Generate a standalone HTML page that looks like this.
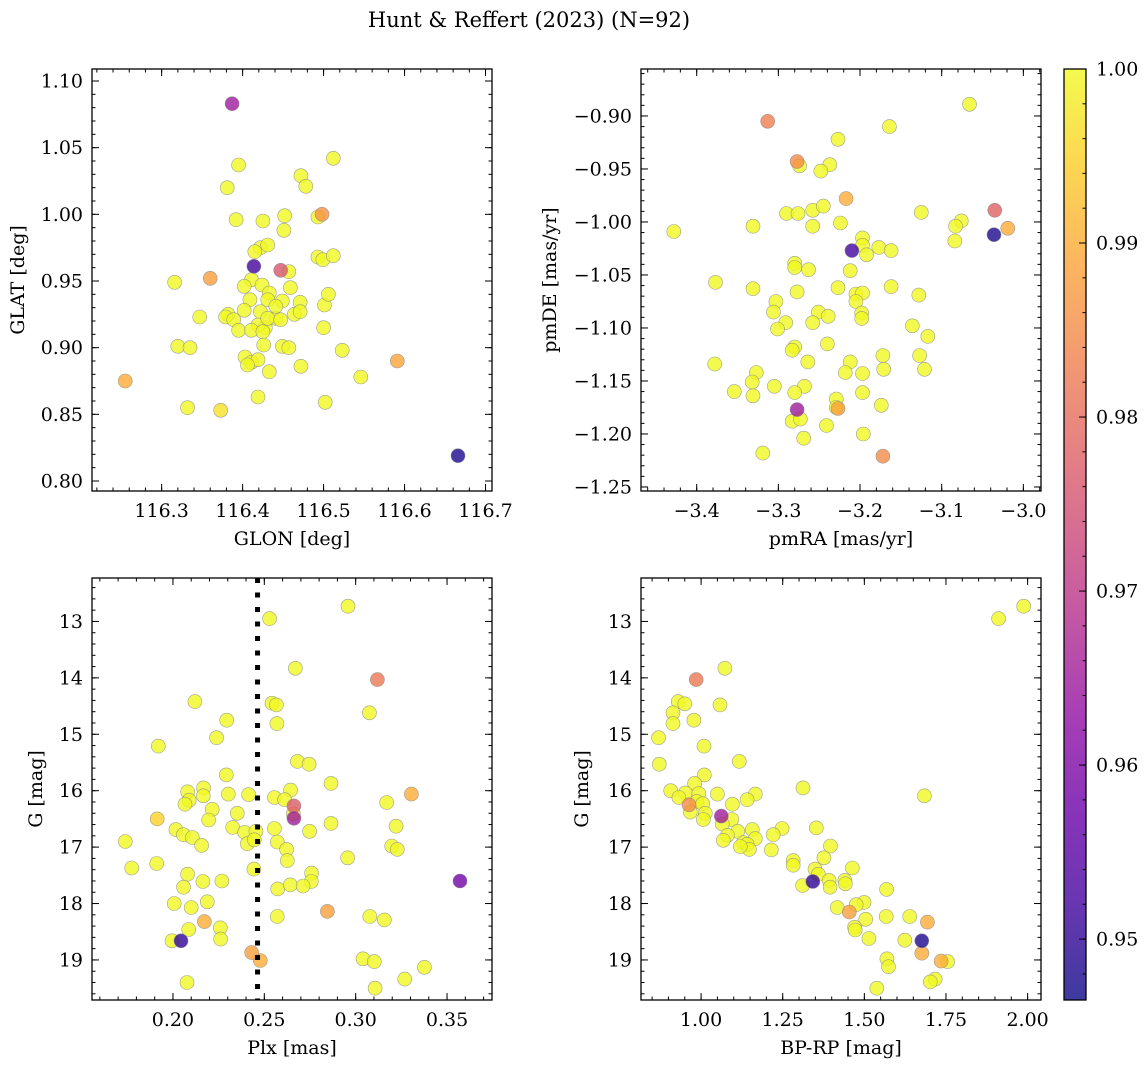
<!DOCTYPE html>
<html><head><meta charset="utf-8"><style>
html,body{margin:0;padding:0;background:#fff;}
svg{display:block;font-family:"DejaVu Serif","Liberation Serif",serif;}
</style></head><body>
<svg id="fig" width="1148" height="1068" viewBox="0 0 1148 1068" xmlns="http://www.w3.org/2000/svg">
<defs>
<linearGradient id="plasmaGrad" x1="0" y1="1" x2="0" y2="0">
<stop offset="0" stop-color="#0d0887"/><stop offset="0.1" stop-color="#41049d"/><stop offset="0.2" stop-color="#6a00a8"/><stop offset="0.3" stop-color="#8f0da4"/><stop offset="0.4" stop-color="#b12a90"/><stop offset="0.5" stop-color="#cc4778"/><stop offset="0.6" stop-color="#e16462"/><stop offset="0.7" stop-color="#f2844b"/><stop offset="0.8" stop-color="#fca636"/><stop offset="0.9" stop-color="#fcce25"/><stop offset="1" stop-color="#f0f921"/>
</linearGradient>
</defs>
<text x="529" y="27" font-size="21" text-anchor="middle">Hunt &amp; Reffert (2023) (N=92)</text>
</svg>
<script>
// ---- Panel 1: GLON vs GLAT
const glonVals=[116.387,116.666,116.255,116.360,116.591,116.498,116.414,116.447,116.395,116.512,116.381,116.472,116.478,116.392,116.425,116.452,116.493,116.451,116.422,116.431,116.415,116.493,116.499,116.512,116.316,116.411,116.424,116.402,116.459,116.457,116.433,116.409,116.431,116.449,116.471,116.501,116.506,116.402,116.382,116.379,116.422,116.441,116.464,116.471,116.428,116.419,116.431,116.447,116.389,116.347,116.500,116.395,116.411,116.425,116.449,116.457,116.426,116.403,116.411,116.419,116.406,116.433,116.472,116.523,116.546,116.320,116.335,116.419,116.332,116.373,116.502,116.441];
const glatVals=[1.083,0.819,0.875,0.952,0.890,1.000,0.961,0.958,1.037,1.042,1.020,1.029,1.021,0.996,0.995,0.999,0.998,0.988,0.975,0.977,0.972,0.968,0.966,0.969,0.949,0.951,0.947,0.946,0.945,0.957,0.941,0.936,0.936,0.935,0.934,0.932,0.940,0.928,0.925,0.923,0.927,0.922,0.925,0.927,0.915,0.917,0.922,0.921,0.921,0.923,0.915,0.913,0.913,0.912,0.901,0.900,0.902,0.893,0.889,0.891,0.887,0.882,0.886,0.898,0.878,0.901,0.900,0.863,0.855,0.853,0.859,0.931];
const probP1=[0.965,0.948,0.990,0.988,0.989,0.986,0.952,0.976,1,1,1,1,1,1,1,1,1,1,1,1,1,1,1,1,1,1,1,1,1,1,1,1,1,1,1,1,1,1,1,1,1,1,1,1,1,1,1,1,1,1,1,1,1,1,1,1,1,1,1,1,1,1,1,1,1,1,1,1,1,0.997,1,1];
// ---- Panel 2: pmRA vs pmDE
const pmraVals=[-3.313,-3.277,-3.217,-3.035,-3.019,-3.036,-3.210,-3.277,-3.172,-3.227,-3.066,-3.164,-3.227,-3.237,-3.248,-3.274,-3.428,-3.290,-3.276,-3.258,-3.245,-3.125,-3.076,-3.083,-3.331,-3.258,-3.224,-3.197,-3.197,-3.177,-3.192,-3.162,-3.084,-3.280,-3.280,-3.263,-3.212,-3.377,-3.162,-3.331,-3.277,-3.128,-3.205,-3.197,-3.227,-3.205,-3.303,-3.306,-3.251,-3.239,-3.198,-3.198,-3.258,-3.291,-3.301,-3.136,-3.117,-3.240,-3.280,-3.283,-3.264,-3.212,-3.172,-3.127,-3.378,-3.327,-3.218,-3.197,-3.171,-3.121,-3.332,-3.305,-3.268,-3.354,-3.331,-3.280,-3.197,-3.229,-3.229,-3.241,-3.283,-3.273,-3.196,-3.269,-3.319,-3.174];
const pmdeVals=[-0.905,-0.943,-0.978,-0.989,-1.006,-1.012,-1.027,-1.177,-1.221,-1.176,-0.889,-0.910,-0.922,-0.946,-0.952,-0.947,-1.009,-0.992,-0.992,-0.989,-0.985,-0.991,-0.999,-1.004,-1.004,-1.004,-1.001,-1.015,-1.022,-1.024,-1.031,-1.027,-1.018,-1.039,-1.043,-1.045,-1.046,-1.057,-1.061,-1.063,-1.066,-1.069,-1.068,-1.067,-1.062,-1.075,-1.075,-1.085,-1.085,-1.089,-1.086,-1.091,-1.095,-1.095,-1.101,-1.098,-1.108,-1.115,-1.118,-1.121,-1.132,-1.132,-1.126,-1.126,-1.134,-1.142,-1.142,-1.143,-1.139,-1.139,-1.151,-1.155,-1.155,-1.160,-1.164,-1.161,-1.161,-1.167,-1.175,-1.192,-1.188,-1.186,-1.200,-1.204,-1.218,-1.173];
const probP2=[0.983,0.985,0.990,0.978,0.990,0.948,0.952,0.965,0.985,0.988,1,1,1,1,1,1,1,1,1,1,1,1,1,1,1,1,1,1,1,1,1,1,1,1,1,1,1,1,1,1,1,1,1,1,1,1,1,1,1,1,1,1,1,1,1,1,1,1,1,1,1,1,1,1,1,1,1,1,1,1,1,1,1,1,1,1,1,1,1,1,1,1,1,1,1,1];
// ---- Panel 3: Plx vs G
const plxVals=[0.2958,0.2529,0.2670,0.3119,0.2120,0.2542,0.2566,0.3075,0.2294,0.2569,0.2239,0.1920,0.2681,0.2745,0.2292,0.2865,0.3305,0.2080,0.2168,0.2166,0.2303,0.2414,0.2555,0.2644,0.2611,0.2662,0.2089,0.2066,0.3170,0.2215,0.2352,0.2659,0.2662,0.1914,0.2195,0.2865,0.3221,0.2016,0.2327,0.2392,0.2454,0.2555,0.2748,0.2057,0.2106,0.1739,0.2157,0.2407,0.2445,0.2571,0.3197,0.3228,0.2622,0.2626,0.2956,0.1774,0.1911,0.2443,0.2080,0.2759,0.2757,0.2164,0.2268,0.3571,0.2058,0.2573,0.2642,0.2712,0.2188,0.2007,0.2100,0.2845,0.2571,0.3077,0.3157,0.2172,0.2259,0.2086,0.2261,0.1995,0.2044,0.2431,0.2478,0.3040,0.3102,0.3376,0.3268,0.2077,0.3106];
const gPlxVals=[12.73,12.95,13.83,14.03,14.42,14.45,14.48,14.62,14.75,14.81,15.06,15.21,15.48,15.53,15.72,15.87,16.06,16.02,15.95,16.09,16.06,16.07,16.12,15.99,16.16,16.27,16.17,16.24,16.21,16.33,16.40,16.41,16.49,16.50,16.52,16.58,16.63,16.69,16.65,16.74,16.72,16.67,16.72,16.78,16.83,16.90,16.97,16.94,16.87,16.91,16.98,17.04,17.04,17.24,17.19,17.37,17.29,17.39,17.48,17.46,17.61,17.61,17.60,17.60,17.71,17.74,17.67,17.69,17.97,18.00,18.07,18.14,18.23,18.23,18.29,18.32,18.43,18.46,18.63,18.66,18.66,18.87,19.01,18.98,19.03,19.13,19.34,19.40,19.50];
const probP3=[1,1,1,0.982,1,1,1,1,1,1,1,1,1,1,1,1,0.990,1,1,1,1,1,1,1,1,0.977,1,1,1,1,1,0.998,0.965,0.995,1,1,1,1,1,1,1,1,1,1,1,1,1,1,1,1,1,1,1,1,1,1,1,1,1,1,1,1,1,0.958,1,1,1,1,1,1,1,0.988,1,1,1,0.990,1,1,1,1,0.950,0.988,0.990,1,1,1,1,1,1];
const plxCut=0.2463;
// ---- Panel 4: BP-RP vs G
const bprpVals=[1.988,1.911,1.073,0.985,0.930,0.950,1.058,0.914,0.978,0.914,0.870,1.009,1.117,0.872,1.010,0.980,1.312,0.907,1.684,1.050,1.166,0.952,0.993,0.932,0.963,0.987,1.005,1.141,1.096,0.967,1.013,1.007,1.062,1.094,1.065,1.248,1.353,1.157,1.112,1.221,1.081,1.166,1.068,1.130,1.396,1.141,1.148,1.215,1.120,1.376,1.282,1.282,1.349,1.463,1.359,1.342,1.392,1.440,1.311,1.395,1.442,1.568,1.417,1.499,1.475,1.454,1.504,1.567,1.639,1.693,1.470,1.472,1.514,1.624,1.676,1.676,1.569,1.574,1.735,1.755,1.717,1.702,1.538];
const gCmdVals=[12.73,12.95,13.83,14.03,14.42,14.46,14.48,14.62,14.75,14.81,15.06,15.21,15.48,15.53,15.72,15.87,15.95,16.00,16.09,16.06,16.06,16.04,16.05,16.12,16.25,16.19,16.23,16.16,16.24,16.38,16.40,16.51,16.45,16.51,16.59,16.67,16.66,16.69,16.72,16.78,16.79,16.85,16.88,16.92,16.98,16.95,17.04,17.05,16.99,17.19,17.24,17.32,17.39,17.37,17.48,17.61,17.59,17.59,17.68,17.71,17.65,17.75,18.07,17.98,18.02,18.15,18.28,18.23,18.23,18.33,18.42,18.47,18.62,18.65,18.66,18.88,18.98,19.12,19.02,19.03,19.34,19.39,19.50];
const probP4=[1,1,1,0.982,1,1,1,1,1,1,1,1,1,1,1,1,1,1,1,1,1,1,1,1,0.985,1,1,1,1,1,1,1,0.965,1,1,1,1,1,1,1,1,1,1,1,1,1,1,1,1,1,1,1,1,1,1,0.950,1,1,1,1,1,1,1,1,1,0.988,1,1,1,0.990,1,1,1,1,0.948,0.990,1,1,0.990,1,1,1,1];
// ---- Tick labels
const p1XTicks=[116.3,116.4,116.5,116.6,116.7];
const p1YTicks=[0.80,0.85,0.90,0.95,1.00,1.05,1.10];
const p2XTicks=[-3.4,-3.3,-3.2,-3.1,-3.0];
const p2YTicks=[-1.25,-1.20,-1.15,-1.10,-1.05,-1.00,-0.95,-0.90];
const p3XTicks=[0.20,0.25,0.30,0.35];
const gTicks=[13,14,15,16,17,18,19];
const p4XTicks=[1.00,1.25,1.50,1.75,2.00];
const cbarTicks=[0.95,0.96,0.97,0.98,0.99,1.00];
const cMin=0.9465,cMax=1.0;

const NS='http://www.w3.org/2000/svg';
const svg=document.getElementById('fig');
function mk(tag,attrs,parent){const e=document.createElementNS(NS,tag);for(const k in attrs)e.setAttribute(k,attrs[k]);(parent||svg).appendChild(e);return e;}
const stops=[[0,[13,8,135]],[0.1,[65,4,157]],[0.2,[106,0,168]],[0.3,[143,13,164]],[0.4,[177,42,144]],[0.5,[204,71,120]],[0.6,[225,100,98]],[0.7,[242,132,75]],[0.8,[252,166,54]],[0.9,[252,206,37]],[1,[240,249,33]]];
function plasma(t){t=Math.max(0,Math.min(1,t));for(let i=1;i<stops.length;i++){if(t<=stops[i][0]){const a=stops[i-1],b=stops[i];const f=(t-a[0])/(b[0]-a[0]);const c=a[1].map((v,j)=>Math.round(v+(b[1][j]-v)*f));return 'rgb('+c.join(',')+')';}}return 'rgb(240,249,33)';}
function fmt(v,d){const s=Math.abs(v).toFixed(d);return v<0?'\u2212'+s:s;}

function panel(o){
  const g=mk('g',{});
  
  
  const sx=v=>o.x0+(v-o.xd[0])/(o.xd[1]-o.xd[0])*(o.x1-o.x0);
  const sy=v=>o.y1-(v-o.yd[0])/(o.yd[1]-o.yd[0])*(o.y1-o.y0);
  const bg=mk('rect',{x:o.x0,y:o.y0,width:o.x1-o.x0,height:o.y1-o.y0,fill:'#fff'},g);
  
  
  const pts=mk('g',{},g);
  
  
  const idx=o.xs.map((_,i)=>i).sort((a,b)=>o.p[b]-o.p[a]);
  idx.forEach(i=>{
    const c=mk('circle',{cx:sx(o.xs[i]).toFixed(1),cy:sy(o.ys[i]).toFixed(1),r:7,fill:plasma((o.p[i]-cMin)/(cMax-cMin)),'fill-opacity':0.8,stroke:'#888','stroke-opacity':0.8,'stroke-width':0.6},pts);
    
    
  });
  if(o.vline!==undefined){
    const l=mk('line',{x1:sx(o.vline),x2:sx(o.vline),y1:o.y0,y2:o.y1,stroke:'#000','stroke-width':5,'stroke-dasharray':'5 9.5'},g);
    
    
  }
  const tk=mk('g',{stroke:'#000','stroke-width':1},g);
  
  
  const xr=o.xd,yr=o.yd;
  function xt(v,len){const X=sx(v);if(X<o.x0-0.5||X>o.x1+0.5)return;mk('line',{x1:X,x2:X,y1:o.y1,y2:o.y1-len},tk);mk('line',{x1:X,x2:X,y1:o.y0,y2:o.y0+len},tk);}
  function yt(v,len){const Y=sy(v);if(Y<o.y0-0.5||Y>o.y1+0.5)return;mk('line',{x1:o.x0,x2:o.x0+len,y1:Y,y2:Y},tk);mk('line',{x1:o.x1,x2:o.x1-len,y1:Y,y2:Y},tk);}
  const xs0=Math.ceil(xr[0]/o.xmin-1e-6),xs1=Math.floor(xr[1]/o.xmin+1e-6);
  for(let k=xs0;k<=xs1;k++)xt(k*o.xmin,3.5);
  const ys0=Math.ceil(Math.min(yr[0],yr[1])/o.ymin-1e-6),ys1=Math.floor(Math.max(yr[0],yr[1])/o.ymin+1e-6);
  for(let k=ys0;k<=ys1;k++)yt(k*o.ymin,3.5);
  o.xt.forEach(v=>{xt(v,7);const t=mk('text',{x:sx(v),y:o.y1+26,'font-size':19,'text-anchor':'middle'},g);t.textContent=fmt(v,o.xdec);});
  o.yt.forEach(v=>{yt(v,7);const t=mk('text',{x:o.x0-9,y:sy(v)+6.5,'font-size':19,'text-anchor':'end'},g);t.textContent=fmt(v,o.ydec);});
  const fr=mk('rect',{x:o.x0,y:o.y0,width:o.x1-o.x0,height:o.y1-o.y0,fill:'none',stroke:'#000','stroke-width':1.3},g);
  
  
  const xl=mk('text',{x:(o.x0+o.x1)/2,y:o.y1+54,'font-size':19,'text-anchor':'middle'},g);
  xl.textContent=o.xlab;
  
  
  const yl=mk('text',{x:o.ylx,y:(o.y0+o.y1)/2,'font-size':19,'text-anchor':'middle',transform:'rotate(-90 '+o.ylx+' '+((o.y0+o.y1)/2)+')'},g);
  yl.textContent=o.ylab;
  
  
}
panel({name:'glon-glat-panel',x0:92,x1:492,y0:69,y1:491,xd:[116.214,116.708],yd:[0.7925,1.109],xs:glonVals,ys:glatVals,p:probP1,xt:p1XTicks,yt:p1YTicks,xdec:1,ydec:2,xmin:0.02,ymin:0.01,xlab:'GLON [deg]',ylab:'GLAT [deg]',ylx:24});
panel({name:'proper-motion-panel',x0:641,x1:1041,y0:69,y1:491,xd:[-3.4682,-2.9784],yd:[-1.2538,-0.8557],xs:pmraVals,ys:pmdeVals,p:probP2,xt:p2XTicks,yt:p2YTicks,xdec:1,ydec:2,xmin:0.02,ymin:0.01,xlab:'pmRA [mas/yr]',ylab:'pmDE [mas/yr]',ylx:556});
panel({name:'parallax-mag-panel',x0:92,x1:492,y0:578,y1:1000,xd:[0.1557,0.3746],yd:[19.71,12.23],xs:plxVals,ys:gPlxVals,p:probP3,xt:p3XTicks,yt:gTicks,xdec:2,ydec:0,xmin:0.01,ymin:0.2,xlab:'Plx [mas]',ylab:'G [mag]',ylx:42,vline:plxCut});
panel({name:'cmd-panel',x0:641,x1:1041,y0:578,y1:1000,xd:[0.816,2.041],yd:[19.71,12.23],xs:bprpVals,ys:gCmdVals,p:probP4,xt:p4XTicks,yt:gTicks,xdec:2,ydec:0,xmin:0.05,ymin:0.2,xlab:'BP-RP [mag]',ylab:'G [mag]',ylx:588});

const cb=mk('g',{});


const cbx0=1064,cbx1=1086,cby0=69,cby1=1000;
const cy=v=>cby1-(v-cMin)/(cMax-cMin)*(cby1-cby0);
mk('rect',{x:cbx0,y:cby0,width:cbx1-cbx0,height:cby1-cby0,fill:'url(#plasmaGrad)','fill-opacity':0.8},cb);
mk('rect',{x:cbx0,y:cby0,width:cbx1-cbx0,height:cby1-cby0,fill:'none',stroke:'#000','stroke-width':1.3},cb);
for(let k=Math.ceil(cMin/0.002);k<=Math.floor(cMax/0.002+1e-6);k++){const Y=cy(k*0.002);mk('line',{x1:cbx1,x2:cbx1-3.5,y1:Y,y2:Y,stroke:'#000'},cb);}
cbarTicks.forEach(v=>{const Y=cy(v);mk('line',{x1:cbx1,x2:cbx1-7,y1:Y,y2:Y,stroke:'#000'},cb);const t=mk('text',{x:cbx1+10,y:Y+6.5,'font-size':19},cb);t.textContent=v.toFixed(2);});
</script>
</body></html>
